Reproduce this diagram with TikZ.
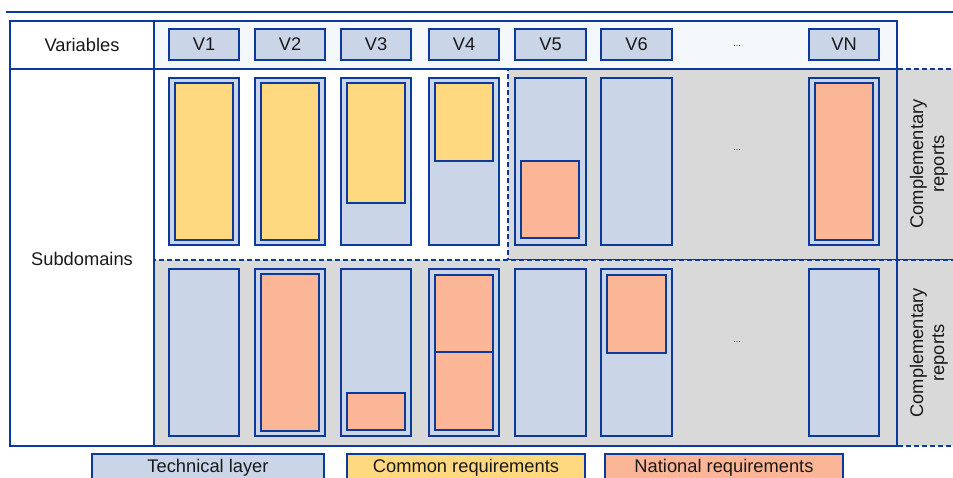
\documentclass[tikz,border=0pt]{standalone}
\usepackage{fontspec}
\setmainfont{Liberation Sans}
\definecolor{dblue}{HTML}{0A3A9C}
\definecolor{lblue}{HTML}{CBD5E8}
\definecolor{cyel}{HTML}{FFD980}
\definecolor{corg}{HTML}{FBB698}
\definecolor{cgray}{HTML}{D9D9D9}
\definecolor{hdr}{HTML}{F5F8FB}
\newcommand\rbox[7]{\node[#6, minimum width={#4-#2}, minimum height={#5-#3}] (#1) at ({(#2+#4)/2},{(#3+#5)/2}) {#7};}
\tikzset{
  txt/.style={font=\fontsize{18.3}{21}\selectfont, text=black!90},
  box/.style={draw=dblue, line width=1.3pt, inner sep=0pt, outer sep=0pt, txt},
  tech/.style={box, fill=lblue},
  com/.style={box, fill=cyel},
  nat/.style={box, fill=corg},
  grayreg/.style={fill=cgray, draw=dblue, line width=1.2pt, dash pattern=on 5pt off 3pt, inner sep=0pt, outer sep=0pt},
  frame/.style={draw=dblue, line width=1.5pt, inner sep=0pt, outer sep=0pt},
  dots/.style={font=\fontsize{9}{10}\selectfont, text=black!90}
}
\begin{document}
\begin{tikzpicture}[x=1pt,y=-1pt]
\useasboundingbox (0,0) rectangle (953,478);
\fill[white] (0,0) rectangle (953,478);
% top rule
\coordinate (tl) at (6,12);
\coordinate (tr) at (953,12);
\draw[dblue, line width=1.8pt] (tl) -- (tr);
% gray regions
\rbox{grayup}{508}{69}{958}{260}{grayreg}{}
\rbox{graylow}{154}{260}{958}{446}{grayreg}{}
% header fill
\rbox{hdrfill}{154}{21}{897}{69}{fill=hdr, inner sep=0pt, outer sep=0pt}{}
% frame
\rbox{frm}{10}{21}{897}{446}{frame}{}
\rbox{varcell}{10}{21}{154}{69}{frame}{}
\rbox{subcell}{10}{69}{154}{446}{frame}{}
\rbox{hdrcell}{154}{21}{897}{69}{frame}{}
\node[txt] (lvar) at (82,45) {Variables};
\node[txt] (lsub) at (82,259) {Subdomains};
% header boxes
\rbox{h1}{169}{29}{239}{60}{tech}{V1}
\rbox{h2}{255}{29}{325}{60}{tech}{V2}
\rbox{h3}{341}{29}{411}{60}{tech}{V3}
\rbox{h4}{429}{29}{499}{60}{tech}{V4}
\rbox{h5}{515}{29}{586}{60}{tech}{V5}
\rbox{h6}{601}{29}{672}{60}{tech}{V6}
\rbox{hN}{809}{29}{879}{60}{tech}{VN}
\node[dots] (hdots) at (737,46) {...};
% top row
\rbox{a1}{169}{78}{239}{245}{tech}{}
\rbox{a1i}{175}{83}{233}{240}{com}{}
\rbox{a2}{255}{78}{325}{245}{tech}{}
\rbox{a2i}{261}{83}{319}{240}{com}{}
\rbox{a3}{341}{78}{411}{245}{tech}{}
\rbox{a3i}{347}{83}{405}{203}{com}{}
\rbox{a4}{429}{78}{499}{245}{tech}{}
\rbox{a4i}{435}{83}{493}{161}{com}{}
\rbox{a5}{515}{78}{586}{245}{tech}{}
\rbox{a5i}{521}{161}{579}{238}{nat}{}
\rbox{a6}{601}{78}{672}{245}{tech}{}
\node[dots] (adots) at (737,150) {...};
\rbox{aN}{809}{78}{879}{245}{tech}{}
\rbox{aNi}{815}{83}{873}{240}{nat}{}
% bottom row
\rbox{b1}{169}{269}{239}{436}{tech}{}
\rbox{b2}{255}{269}{325}{436}{tech}{}
\rbox{b2i}{261}{274}{319}{431}{nat}{}
\rbox{b3}{341}{269}{411}{436}{tech}{}
\rbox{b3i}{347}{393}{405}{430}{nat}{}
\rbox{b4}{429}{269}{499}{436}{tech}{}
\rbox{b4i}{435}{275}{493}{352}{nat}{}
\rbox{b4j}{435}{352}{493}{430}{nat}{}
\rbox{b5}{515}{269}{586}{436}{tech}{}
\rbox{b6}{601}{269}{672}{436}{tech}{}
\rbox{b6i}{607}{275}{666}{353}{nat}{}
\node[dots] (bdots) at (737,342) {...};
\rbox{bN}{809}{269}{879}{436}{tech}{}
% complementary reports
\node[txt, rotate=90, align=center] (cr1) at (929,164) {Complementary\\reports};
\node[txt, rotate=90, align=center] (cr2) at (929,353) {Complementary\\reports};
% legend
\rbox{lg1}{92}{454}{324}{481}{tech}{\raisebox{1.5pt}{Technical layer}}
\rbox{lg2}{347}{454}{585}{481}{com}{\raisebox{1.5pt}{Common requirements}}
\rbox{lg3}{605}{454}{843}{481}{nat}{\raisebox{1.5pt}{National requirements}}
\end{tikzpicture}
\end{document}
